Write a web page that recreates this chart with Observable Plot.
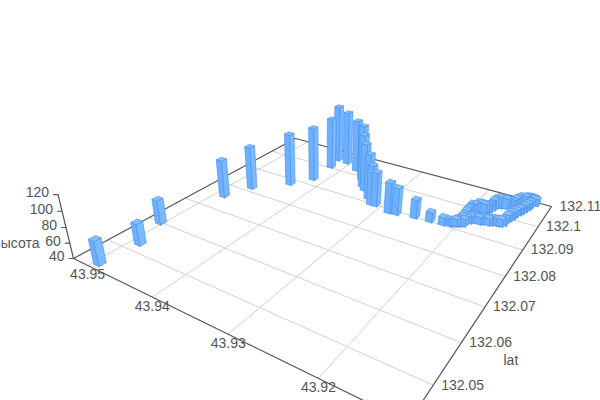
<!DOCTYPE html><html><head><meta charset="utf-8">
<script src="https://cdn.jsdelivr.net/npm/d3@7"></script>
<script src="https://cdn.jsdelivr.net/npm/@observablehq/plot@0.6"></script>
<style>html,body{margin:0;background:#fff}</style></head><body><div id="chart"></div>
<script>
// Values
const lonValues=[9492,9487,9503,9486,9471,9435,9417,9418,9423,9406,9382,9361,9349,9341,9325,9314,9308,9285,9275,9252,9232,9216,
 9208,9205,9202,9199,9197,9197,9197,9198,9198,9198,9194,9192,9187,9184,9181,9179,9177,9176,9172,9169,9165,9163,9159,9157,9155,9153,9149,9146,9143,9139,9135,9138,9139,9140,9142,9144,9146,9148,9149,9151,9153,9153,9156,9159,9163,9167,9170,9174,9177,9180,9185,9188,9190,9193,9194,9197,9201].map(d=>43+d/10000);
const latValues=[441,525,600,755,818,881,930,1007,1051,1048,1026,992,962,948,920,900,901,890,892,901,904,907,
 911,914,917,921,928,938,951,965,975,991,994,1002,997,1000,1004,1011,1023,1035,1038,1042,1042,1049,1058,1071,1079,1087,1090,1094,1097,1096,1090,1092,1075,1063,1051,1039,1032,1020,1008,997,990,974,967,964,964,960,956,957,954,950,955,951,944,937,926,923,919].map(d=>132+d/10000);
const heightValues=[72,69,73,93,101,114,117,115,124,119,116,120,116,108,104,96,88,83,78,66,54,51,
 49,49,50,51,53,53,54,53,52,52,52,53,55,53,52,52,55,55,56,56,55,53,50,50,50,50,50,50,50,50,50,50,50,50,50,50,50,50,50,50,50,50,50,50,50,50,50,50,50,50,50,50,50,50,50,50,50];
const xTicks=[43.95,43.94,43.93,43.92];
const yTicks=[132.05,132.06,132.07,132.08,132.09,132.1,132.11];
const zTicks=[40,60,80,100,120];
const xExtent=[43.9116,43.9524], yExtent=[132.0425,132.11], zBase=40;

// Camera: ground-plane homography fixed by the box corners, plus a vertical vanishing point
const F=[408,422],Lc=[73,258],Bc=[295,138],Rc=[551,206],VP=[320,1280],camC=-0.001045;
const dx1=Lc[0]-Bc[0],dx2=Rc[0]-Bc[0],sx=F[0]-Lc[0]+Bc[0]-Rc[0];
const dy1=Lc[1]-Bc[1],dy2=Rc[1]-Bc[1],sy=F[1]-Lc[1]+Bc[1]-Rc[1];
const den=dx1*dy2-dx2*dy1, g=(sx*dy2-dx2*sy)/den, hh=(dx1*sy-sx*dy1)/den;
const H=[Lc[0]-F[0]+g*Lc[0],Rc[0]-F[0]+hh*Rc[0],F[0],Lc[1]-F[1]+g*Lc[1],Rc[1]-F[1]+hh*Rc[1],F[1]];
function project(x,y,z=zBase){
  const u=(x-xExtent[0])/(xExtent[1]-xExtent[0]), v=(y-yExtent[0])/(yExtent[1]-yExtent[0]);
  const w=g*u+hh*v+1, k=camC*(z-zBase);
  return [(H[0]*u+H[1]*v+H[2]+k*VP[0])/(w+k),(H[3]*u+H[4]*v+H[5]+k*VP[1])/(w+k)];
}
const seg=(id,pts)=>pts.map(p=>{const q=project(...p);return {id,px:q[0],py:q[1]};});

const grid=[
  ...xTicks.flatMap(t=>seg("x"+t,[[t,yExtent[0]],[t,yExtent[1]]])),
  ...yTicks.filter(t=>t<132.11).flatMap(t=>seg("y"+t,[[xExtent[0],t],[xExtent[1],t]]))
];
const [x0,x1]=xExtent,[y0,y1]=yExtent;
const axes=[
  ...seg("back",[[x1,y0],[x1,y1],[x0,y1],[x0,y0],[x1,y0]]),
  ...seg("z",[[x1,y0,40],[x1,y0,120]]),
  ...zTicks.flatMap(t=>{const a=project(x1,y0,t);return [{id:"t"+t,px:a[0],py:a[1]},{id:"t"+t,px:a[0]-4.5,py:a[1]}];})
];

// Bars, far to near
const hx=0.00044,hy=0.00076;
const bars=lonValues.map((x,i)=>({x,y:latValues[i],h:heightValues[i],i}))
  .sort((a,b)=>project(a.x,a.y)[1]-project(b.x,b.y)[1]);
const faces=bars.flatMap(b=>{
  const {x,y,h,i}=b,a=x-hx,c=x+hx,d=y-hy,e=y+hy;
  return [
   ...seg(i+"a",[[c,d,zBase],[a,d,zBase],[a,d,h],[c,d,h],[c,d,zBase]]).map(r=>({...r,f:"#6cb0ff"})),
   ...seg(i+"b",[[a,d,zBase],[a,e,zBase],[a,e,h],[a,d,h],[a,d,zBase]]).map(r=>({...r,f:"#7cbaff"})),
   ...seg(i+"c",[[a,d,h],[a,e,h],[c,e,h],[c,d,h],[a,d,h]]).map(r=>({...r,f:"#84c0ff"}))
  ];
});

const xLab=xTicks.map(t=>{const p=project(t,y0);return {t,px:p[0],py:p[1]};});
const yLab=yTicks.map(t=>{const p=project(x0,t);return {t,px:p[0],py:p[1]};});
const zLab=zTicks.map(t=>{const p=project(x1,y0,t);return {t,px:p[0],py:p[1]};});
const fmt=d=>String(d);
const textOpts={x:"px",y:"py",fill:"#555",fontSize:14,fontFamily:"Arial, Liberation Sans, sans-serif"};

const chart=Plot.plot({
  width:600,height:400,margin:0,
  x:{domain:[0,600],range:[0,600],axis:null},
  y:{domain:[0,400],range:[0,400],axis:null},
  style:{background:"#fff",overflow:"hidden"},
  marks:[
    Plot.line(grid,{x:"px",y:"py",z:"id",stroke:"#d2d2d2",strokeWidth:1,curve:"linear"}),
    Plot.line(axes,{x:"px",y:"py",z:"id",stroke:"#555",strokeWidth:1.2,curve:"linear"}),
    Plot.line(faces,{x:"px",y:"py",z:"id",fill:"f",stroke:"#4a90ee",strokeWidth:0.7,strokeOpacity:0.9,curve:"linear"}),
    Plot.text(xLab,{...textOpts,text:d=>fmt(d.t),dy:9,textAnchor:"middle"}),
    Plot.text(yLab,{...textOpts,text:d=>fmt(d.t),dx:8,dy:0,textAnchor:"start"}),
    Plot.text(zLab,{...textOpts,text:d=>fmt(d.t),dx:-9,dy:-2,textAnchor:"end"}),
    Plot.text([{s:"высота",px:39,py:243}],{...textOpts,text:"s",textAnchor:"end"}),
    Plot.text([{s:"lat",px:503,py:360}],{...textOpts,text:"s",textAnchor:"start"})
  ]
});
document.getElementById("chart").append(chart);
</script></body></html>
